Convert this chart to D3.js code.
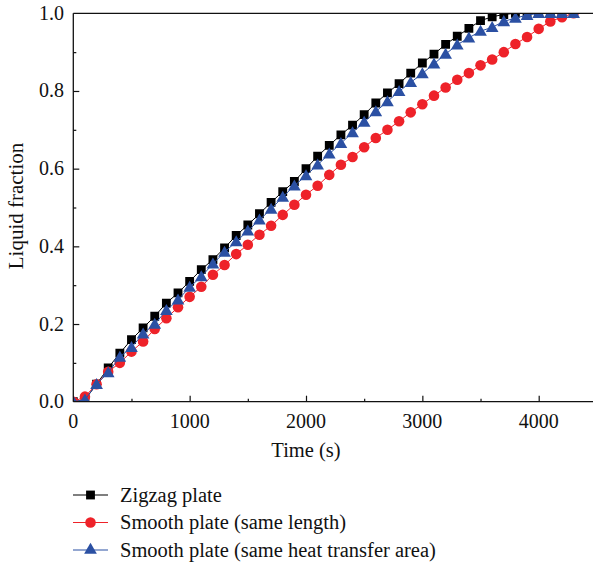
<!DOCTYPE html>
<html>
<head>
<meta charset="utf-8">
<script src="https://cdn.jsdelivr.net/npm/d3@7"></script>
<style>
  body { margin: 0; background: #fff; }
  svg text { font-family: "Liberation Serif", "DejaVu Serif", serif; fill: #111; }
</style>
</head>
<body>
<div id="container"></div>
<script>
const width = 593
const height = 565

// time in seconds, one point every 100 s
const times = d3.range(0, 4301, 100)

const zigzag = [0, 0.005, 0.045, 0.087, 0.125, 0.16, 0.19, 0.22, 0.254, 0.28,
    0.31, 0.34, 0.366, 0.396, 0.428, 0.455, 0.484, 0.513, 0.541, 0.567,
    0.60, 0.632, 0.66, 0.687, 0.712, 0.739, 0.769, 0.795, 0.819, 0.846,
    0.872, 0.895, 0.92, 0.941, 0.961, 0.981, 0.991, 0.997, 1.0, 1.0,
    1.0, 1.0, 1.0, 1.0]

const smoothLength = [0, 0.013, 0.045, 0.077, 0.10, 0.129, 0.155, 0.187, 0.215, 0.243,
    0.27, 0.296, 0.327, 0.352, 0.38, 0.404, 0.43, 0.453, 0.481, 0.507,
    0.533, 0.556, 0.584, 0.61, 0.63, 0.655, 0.679, 0.70, 0.722, 0.745,
    0.766, 0.788, 0.809, 0.829, 0.846, 0.866, 0.881, 0.90, 0.921, 0.939,
    0.96, 0.979, 0.99, 1.0]

const smoothArea = [0, 0.005, 0.045, 0.075, 0.115, 0.14, 0.175, 0.2, 0.235, 0.262,
    0.295, 0.322, 0.355, 0.385, 0.412, 0.44, 0.468, 0.496, 0.527, 0.556,
    0.582, 0.61, 0.638, 0.665, 0.693, 0.72, 0.747, 0.773, 0.799, 0.822,
    0.845, 0.87, 0.895, 0.919, 0.937, 0.954, 0.964, 0.979, 0.988, 0.995,
    1.0, 1.0, 1.0, 1.0]

const seriesNames = ["Zigzag plate", "Smooth plate (same length)", "Smooth plate (same heat transfer area)"]
const seriesColors = ["#000000", "#ee2229", "#2b50a3"]
const seriesShapes = [d3.symbolSquare, d3.symbolCircle, d3.symbolTriangle]
const seriesSizes = [78, 88, 70]

const xTicks = [0, 1000, 2000, 3000, 4000]
const yTicks = [0, 0.2, 0.4, 0.6, 0.8, 1.0]

const plot = { left: 73.3, top: 13.3, bottom: 401.7 }

const x = d3.scaleLinear().domain([0, 4500]).range([plot.left, plot.left + 4500 * 0.11635])
const y = d3.scaleLinear().domain([0, 1]).range([plot.bottom, plot.top])

const svg = d3.select('#container').append('svg')
    .attr('width', width).attr('height', height)

svg.append('clipPath').attr('id', 'clip')
    .append('rect')
    .attr('x', plot.left).attr('y', plot.top)
    .attr('width', x.range()[1] - plot.left).attr('height', plot.bottom - plot.top)

const allSeries = [zigzag, smoothLength, smoothArea]

const g = svg.append('g').attr('clip-path', 'url(#clip)')
const line = d3.line().x(d => x(d[0])).y(d => y(d[1]))

allSeries.forEach((vals, i) => {
    const pts = times.map((t, k) => [t, vals[k]])
    g.append('path')
        .attr('d', line(pts))
        .attr('fill', 'none')
        .attr('stroke', seriesColors[i])
        .attr('stroke-width', 1)
    const yOff = seriesShapes[i] === d3.symbolTriangle ? 1 : 0
    g.selectAll('.m' + i).data(pts).enter().append('path')
        .attr('class', 'm' + i)
        .attr('transform', d => `translate(${x(d[0])},${y(d[1]) + yOff})`)
        .attr('d', d3.symbol().type(seriesShapes[i]).size(seriesSizes[i]))
        .attr('fill', seriesColors[i])
})

// axes, ticks pointing inward
const xAxis = svg.append('g').attr('transform', `translate(0,${plot.bottom})`)
    .call(d3.axisBottom(x).tickValues(d3.range(0, 4501, 500)).tickSize(-6).tickFormat(''))
xAxis.selectAll('.tick line').attr('y2', (d) => d % 1000 === 0 ? -6 : -3)
xAxis.selectAll('.tick').filter(d => d === 0).remove()
xAxis.select('.domain').attr('d', `M${plot.left},0H${width}`)

xTicks.forEach(t => {
    svg.append('text').attr('x', x(t)).attr('y', 427.5)
        .attr('text-anchor', 'middle').attr('font-size', 20)
        .text(t)
})

const yAxis = svg.append('g').attr('transform', `translate(${plot.left},0)`)
    .call(d3.axisLeft(y).tickValues(d3.range(0, 1.001, 0.1)).tickSize(-6).tickFormat(''))
yAxis.selectAll('.tick line').attr('x2', (d, i) => i % 2 === 0 ? 6 : 3)
yAxis.selectAll('.tick').filter(d => d === 0 || d > 0.99).remove()
yAxis.select('.domain').attr('d', `M0,${plot.top}V${plot.bottom}`)

yTicks.forEach(v => {
    svg.append('text').attr('x', 64).attr('y', y(v) + 6.5)
        .attr('text-anchor', 'end').attr('font-size', 20)
        .text(v.toFixed(1))
})

svg.selectAll('.domain').attr('stroke', '#111').attr('stroke-width', 1.3)
svg.selectAll('.tick line').attr('stroke', '#111').attr('stroke-width', 1.2)

// top frame line
svg.append('line')
    .attr('x1', plot.left).attr('x2', width)
    .attr('y1', plot.top).attr('y2', plot.top)
    .attr('stroke', '#111').attr('stroke-width', 1.3)

svg.append('text').attr('x', 306).attr('y', 457)
    .attr('text-anchor', 'middle').attr('font-size', 20.5)
    .text('Time (s)')

svg.append('text')
    .attr('transform', `translate(23,206) rotate(-90)`)
    .attr('text-anchor', 'middle').attr('font-size', 21)
    .text('Liquid fraction')

// legend
const legend = svg.append('g')
seriesNames.forEach((name, i) => {
    const ly = 495 + i * 27.5
    legend.append('line')
        .attr('x1', 73).attr('x2', 108).attr('y1', ly).attr('y2', ly)
        .attr('stroke', seriesColors[i]).attr('stroke-width', 1.2)
    legend.append('path')
        .attr('transform', `translate(90.5,${ly})`)
        .attr('d', d3.symbol().type(seriesShapes[i]).size(seriesSizes[i]))
        .attr('fill', seriesColors[i])
    legend.append('text')
        .attr('x', 120).attr('y', ly + 6.5)
        .attr('font-size', 20.5)
        .text(name)
})
</script>
</body>
</html>
